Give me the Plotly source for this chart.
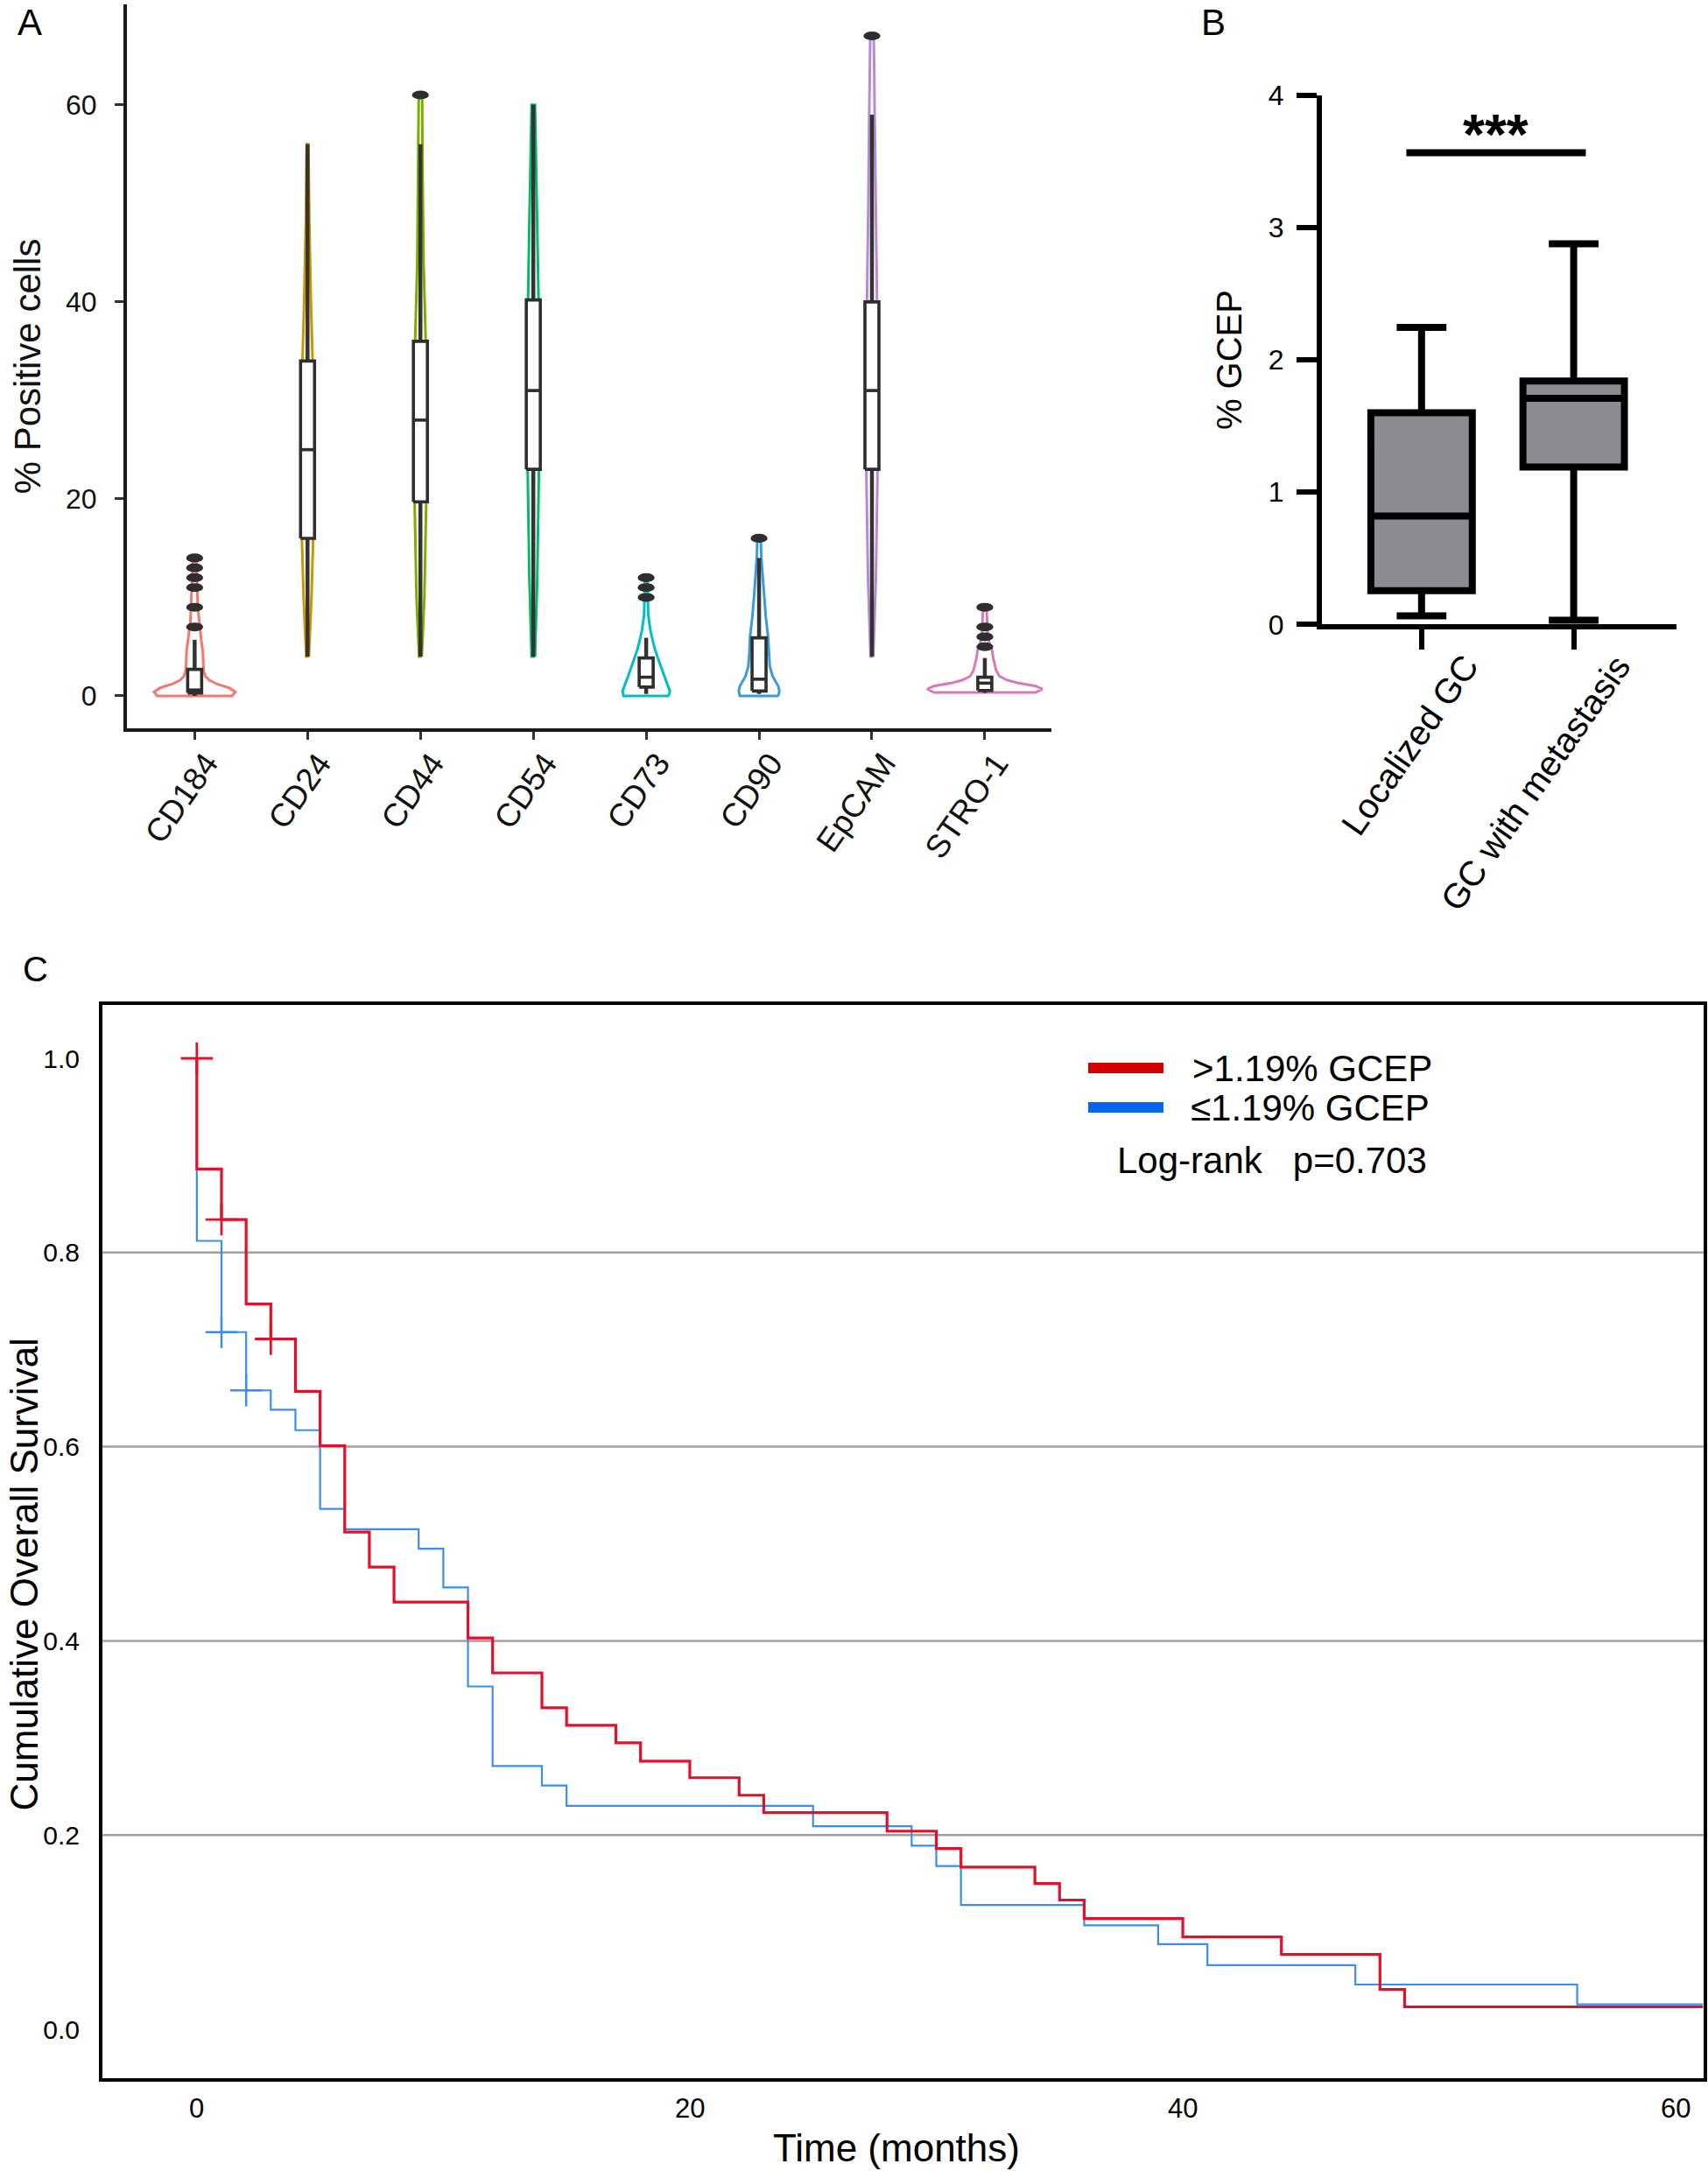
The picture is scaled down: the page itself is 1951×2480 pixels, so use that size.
import plotly.graph_objects as go

FONT = "Liberation Sans, Arial, Helvetica, sans-serif"
W, H = 1951, 2480

# ---------------- Panel A data ----------------
markers = ["CD184", "CD24", "CD44", "CD54", "CD73", "CD90", "EpCAM", "STRO-1"]
marker_colors = ["#F8766D", "#CD9600", "#7CAE00", "#00BE67", "#00BFC4", "#3A9BDC", "#B58BD6", "#D979B8"]
a_q1 = [0.3, 16.0, 19.7, 23.0, 0.9, 0.5, 23.0, 0.55]
a_med = [0.6, 25.0, 28.0, 31.0, 1.9, 1.7, 31.0, 1.3]
a_q3 = [2.7, 34.0, 36.0, 40.2, 3.85, 5.9, 40.0, 1.9]
a_lo = [0.0, 4.0, 4.0, 4.0, 0.2, 0.2, 4.0, 0.3]
a_hi = [5.7, 56.0, 56.0, 60.0, 5.9, 14.0, 59.0, 3.85]
a_outliers = [[7, 9, 11, 12, 13, 14], [], [61], [], [10, 11, 12], [16], [67], [5, 6, 7, 9]]
violin_y = [
    [0, 0.4, 0.8, 1.2, 1.6, 2.0, 2.5, 3.5, 4.5, 5.5, 6.5, 7.5, 9, 11, 12.5, 14],
    [4, 10, 16, 25, 34, 40, 48, 56],
    [4, 10, 20, 28, 36, 44, 52, 56, 61],
    [4, 12, 23, 31, 40, 48, 55, 60],
    [0, 0.5, 1.1, 2.0, 2.9, 3.8, 4.7, 5.6, 6.5, 7.4, 8.3, 10, 12],
    [0, 0.5, 1, 2, 3, 4.5, 6, 8, 10, 12, 14, 16],
    [4, 12, 23, 31, 40, 50, 59, 64, 67],
    [0.35, 0.7, 1.0, 1.3, 1.6, 2.0, 2.6, 3.2, 3.8, 4.6, 5.4, 6.2, 7.0, 8.0, 9.0],
]
violin_w = [
    [0.33, 0.36, 0.31, 0.20, 0.13, 0.095, 0.08, 0.075, 0.072, 0.06, 0.05, 0.038, 0.028, 0.022, 0.02, 0.015],
    [0.012, 0.035, 0.05, 0.06, 0.045, 0.03, 0.016, 0.008],
    [0.012, 0.035, 0.052, 0.058, 0.047, 0.028, 0.02, 0.02, 0.015],
    [0.015, 0.035, 0.05, 0.055, 0.047, 0.035, 0.025, 0.015],
    [0.20, 0.21, 0.19, 0.16, 0.13, 0.105, 0.078, 0.058, 0.04, 0.028, 0.018, 0.015, 0.012],
    [0.17, 0.18, 0.17, 0.12, 0.095, 0.085, 0.08, 0.06, 0.045, 0.03, 0.02, 0.015],
    [0.012, 0.035, 0.05, 0.055, 0.045, 0.032, 0.024, 0.02, 0.015],
    [0.45, 0.51, 0.45, 0.30, 0.20, 0.13, 0.10, 0.085, 0.075, 0.065, 0.04, 0.026, 0.022, 0.02, 0.015],
]
a_yticks = [0, 20, 40, 60]

# ---------------- Panel B data ----------------
groups = ["Localized GC", "GC with metastasis"]
b_q1 = [0.255, 1.19]
b_med = [0.82, 1.71]
b_q3 = [1.60, 1.84]
b_lo = [0.065, 0.032]
b_hi = [2.245, 2.876]
b_yticks = [0, 1, 2, 3, 4]
sig_label = "***"
sig_level = 3.565

# ---------------- Panel C data ----------------
red_t = [0, 0, 1, 2, 3, 4, 5, 6, 7, 8, 11, 12, 14, 15, 17, 18, 20, 22, 23, 28, 30, 31, 34, 35, 36, 40, 44, 48, 49, 61.1]
red_s = [1.0, 0.886, 0.834, 0.747, 0.711, 0.657, 0.601, 0.512, 0.476, 0.440, 0.403, 0.367, 0.331, 0.313, 0.295,
         0.276, 0.259, 0.241, 0.223, 0.204, 0.186, 0.167, 0.150, 0.133, 0.114, 0.095, 0.077, 0.041, 0.023, 0.023]
red_cens_t = [0, 1, 3]
red_cens_s = [1.0, 0.834, 0.711]
blue_t = [0, 0, 1, 2, 3, 4, 5, 6, 9, 10, 11, 12, 14, 15, 25, 29, 30, 31, 36, 39, 41, 47, 56, 61.1]
blue_s = [1.0, 0.812, 0.718, 0.658, 0.638, 0.617, 0.536, 0.515, 0.495, 0.455, 0.353, 0.271, 0.251, 0.230,
          0.209, 0.189, 0.168, 0.128, 0.107, 0.0875, 0.066, 0.046, 0.0255, 0.0255]
blue_cens_t = [1, 2]
blue_cens_s = [0.718, 0.658]
grid_levels = [0.2, 0.4, 0.6, 0.8]
c_yticks = [0.0, 0.2, 0.4, 0.6, 0.8, 1.0]
c_xticks = [0, 20, 40, 60]
legend_labels = [">1.19% GCEP", "≤1.19% GCEP"]
logrank_text = "Log-rank   p=0.703"
c_xtitle = "Time (months)"
c_ytitle = "Cumulative Overall Survival"


def px_x(p):
    return p / W


def px_y(p):
    return 1 - p / H


fig = go.Figure()

# ----- Panel A: violins -----
for i, (ys, ws) in enumerate(zip(violin_y, violin_w)):
    xs = [i + w for w in ws] + [i - w for w in reversed(ws)]
    yy = list(ys) + list(reversed(ys))
    fig.add_trace(go.Scatter(x=xs + [xs[0]], y=yy + [yy[0]], mode="lines", fill="toself",
                             fillcolor="white", line=dict(color=marker_colors[i], width=3),
                             xaxis="x", yaxis="y", showlegend=False, hoverinfo="skip"))

# whiskers
wx, wy = [], []
for i in range(len(markers)):
    wx += [i, i, None, i, i, None]
    wy += [a_lo[i], a_q1[i], None, a_q3[i], a_hi[i], None]
fig.add_trace(go.Scatter(x=wx, y=wy, mode="lines", line=dict(color="#333333", width=4.5),
                         xaxis="x", yaxis="y", showlegend=False, hoverinfo="skip"))

# boxes (white, dark outline) and medians
BOX_HALF = 0.062
for i in range(len(markers)):
    bx = [i - BOX_HALF, i + BOX_HALF, i + BOX_HALF, i - BOX_HALF, i - BOX_HALF]
    by = [a_q1[i], a_q1[i], a_q3[i], a_q3[i], a_q1[i]]
    fig.add_trace(go.Scatter(x=bx, y=by, mode="lines", fill="toself", fillcolor="white",
                             line=dict(color="#2e2e2e", width=3.6), xaxis="x", yaxis="y",
                             showlegend=False, hoverinfo="skip"))
mx, my = [], []
for i in range(len(markers)):
    mx += [i - BOX_HALF, i + BOX_HALF, None]
    my += [a_med[i], a_med[i], None]
fig.add_trace(go.Scatter(x=mx, y=my, mode="lines", line=dict(color="#2e2e2e", width=3.6),
                         xaxis="x", yaxis="y", showlegend=False, hoverinfo="skip"))

shapes = []
for i, outs in enumerate(a_outliers):
    for v in outs:
        shapes.append(dict(type="circle", xref="x", yref="y", x0=i - 0.075, x1=i + 0.075,
                           y0=v - 0.45, y1=v + 0.45, fillcolor="#2e2e2e", line=dict(width=0)))

# ----- Panel B -----
fig.add_trace(go.Box(x=list(range(len(groups))), q1=b_q1, median=b_med, q3=b_q3,
                     lowerfence=b_lo, upperfence=b_hi, width=0.667, whiskerwidth=0.49,
                     fillcolor="#8b8b90", line=dict(color="black", width=8),
                     boxpoints=False, xaxis="x2", yaxis="y2", showlegend=False))
shapes.append(dict(type="line", xref="x2", yref="y2", x0=-0.10, x1=1.08, y0=sig_level, y1=sig_level,
                   line=dict(color="black", width=8)))

# ----- Panel C -----
for lv in grid_levels:
    shapes.append(dict(type="line", xref="x3 domain", yref="y3", x0=0, x1=1, y0=lv, y1=lv,
                       line=dict(color="#a0a0a0", width=2.5), layer="below"))

fig.add_trace(go.Scatter(x=blue_t, y=blue_s, mode="lines", line=dict(color="#3a8fee", width=2.2, shape="hv"),
                         xaxis="x3", yaxis="y3", showlegend=False))
fig.add_trace(go.Scatter(x=red_t, y=red_s, mode="lines", line=dict(color="#e3102b", width=3.2, shape="hv"),
                         xaxis="x3", yaxis="y3", showlegend=False))
fig.add_trace(go.Scatter(x=blue_cens_t, y=blue_cens_s, mode="markers",
                         marker=dict(symbol="cross-thin", size=26, line=dict(color="#3a8fee", width=2.5)),
                         xaxis="x3", yaxis="y3", showlegend=False))
fig.add_trace(go.Scatter(x=red_cens_t, y=red_cens_s, mode="markers",
                         marker=dict(symbol="cross-thin", size=26, line=dict(color="#e3102b", width=2.8)),
                         xaxis="x3", yaxis="y3", showlegend=False))

# legend (drawn)
shapes.append(dict(type="rect", xref="paper", yref="paper", x0=px_x(1243), x1=px_x(1329),
                   y0=px_y(1226), y1=px_y(1214), fillcolor="#d40000", line=dict(width=0)))
shapes.append(dict(type="rect", xref="paper", yref="paper", x0=px_x(1243), x1=px_x(1329),
                   y0=px_y(1271), y1=px_y(1259), fillcolor="#0a64f0", line=dict(width=0)))


def label(text, x, y, size, **kw):
    d = dict(text=text, x=x, y=y, xref="paper", yref="paper", showarrow=False,
             xanchor="center", yanchor="middle", font=dict(size=size, family=FONT, color="black"))
    d.update(kw)
    return d


annotations = [
    label("A", px_x(34), 1.0, 42, yanchor="top"),
    label("B", px_x(1386), 1.0, 42, yanchor="top"),
    label("C", px_x(40), px_y(1107), 40),
    dict(text="<b>" + sig_label + "</b>", x=0.49, y=3.70, xref="x2", yref="y2", showarrow=False,
         font=dict(size=64, family=FONT, color="black"), xanchor="center", yanchor="middle"),
    label(legend_labels[0], px_x(1360), px_y(1220), 42, xanchor="left"),
    label(legend_labels[1], px_x(1358), px_y(1265), 42, xanchor="left"),
    label(logrank_text, px_x(1274), px_y(1325), 42, xanchor="left"),
    label(c_xtitle, px_x(1024), 0.0, 44, yanchor="bottom"),
    label(c_ytitle, 0.0, px_y(1799), 44, textangle=-90, xanchor="left"),
]
# rotated category labels
for i, name in enumerate(markers):
    annotations.append(dict(text=name, x=i, xref="x", y=px_y(850), yref="paper", showarrow=False,
                            xanchor="right", yanchor="top", textangle=-55, xshift=38,
                            font=dict(size=37, family=FONT, color="#111111")))
for i, name in enumerate(groups):
    annotations.append(dict(text=name, x=i, xref="x2", y=px_y(737), yref="paper", showarrow=False,
                            xanchor="right", yanchor="top", textangle=-55, xshift=76,
                            font=dict(size=40, family=FONT, color="black")))
# time-axis tick labels
for t in c_xticks:
    annotations.append(dict(text=str(t), x=t, xref="x3", y=px_y(2408), yref="paper", showarrow=False,
                            xanchor="center", yanchor="middle", font=dict(size=31, family=FONT, color="black")))

fig.update_layout(
    width=W, height=H, margin=dict(l=0, r=0, t=0, b=0, autoexpand=False),
    paper_bgcolor="white", plot_bgcolor="white",
    font=dict(family=FONT, color="black"),
    shapes=shapes, annotations=annotations, showlegend=False,
    xaxis=dict(domain=[px_x(145), px_x(1201)], range=[-0.6, 7.59], anchor="y", automargin=False,
               tickvals=list(range(len(markers))), showticklabels=False,
               ticks="outside", ticklen=9, tickwidth=3,
               tickcolor="#333333", showline=True, linewidth=4, linecolor="#1a1a1a",
               showgrid=False, zeroline=False),
    yaxis=dict(domain=[px_y(832), px_y(5)], range=[-3.29, 70.2], anchor="x", automargin=False,
               tickvals=a_yticks, tickfont=dict(size=32, color="#111111"), ticks="outside",
               ticklen=10, tickwidth=3, tickcolor="#333333", ticklabelstandoff=14,
               showline=True, linewidth=4, linecolor="#1a1a1a", showgrid=False, zeroline=False,
               title=dict(text="% Positive cells", font=dict(size=42, color="#111111"), standoff=16)),
    xaxis2=dict(domain=[px_x(1510), px_x(1914.5)], range=[-0.655, 1.673], anchor="y2", automargin=False,
                tickvals=list(range(len(groups))), showticklabels=False,
                ticks="outside", ticklen=23, tickwidth=6, tickcolor="black",
                showline=True, linewidth=6, linecolor="black", showgrid=False, zeroline=False),
    yaxis2=dict(domain=[px_y(713.4), px_y(108.7)], range=[0, 4], anchor="x2", automargin=False,
                tickvals=b_yticks, tickfont=dict(size=32), ticks="outside", ticklen=23, tickwidth=6,
                tickcolor="black", ticklabelstandoff=8,
                showline=True, linewidth=6, linecolor="black", showgrid=False, zeroline=False,
                title=dict(text="% GCEP", font=dict(size=40), standoff=20)),
    xaxis3=dict(domain=[px_x(117), px_x(1946)], range=[-3.83, 61.13], anchor="y3", automargin=False,
                tickvals=c_xticks, showticklabels=False, ticks="",
                showline=True, mirror=True, linewidth=4, linecolor="black", showgrid=False, zeroline=False),
    yaxis3=dict(domain=[px_y(2374), px_y(1148)], range=[-0.0505, 1.055], anchor="x3", automargin=False,
                tickvals=c_yticks, tickformat=".1f", tickfont=dict(size=30), ticks="", ticklabelstandoff=16,
                showline=True, mirror=True, linewidth=4, linecolor="black", showgrid=False, zeroline=False),
)

fig.write_html("out.html", config={"displayModeBar": False},
               post_script="document.body.style.margin='0px';document.body.style.overflow='hidden';")
